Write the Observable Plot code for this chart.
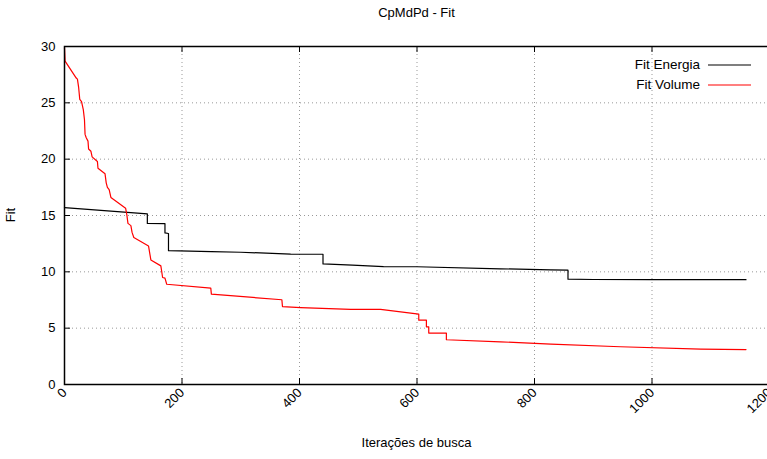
<!DOCTYPE html>
<html><head><meta charset="utf-8">
<script src="https://cdn.jsdelivr.net/npm/d3@7"></script>
<script src="https://cdn.jsdelivr.net/npm/@observablehq/plot@0.6"></script>
<style>body{margin:0;background:#fff} svg{display:block}</style>
</head><body><div id="chart"></div>
<script>
// ---- data ----
const seriesNames = ["Fit Energia", "Fit Volume"];
const seriesColors = ["#000000", "#ff0000"];

const energiaX = [0, 141, 141, 171, 171, 177, 177, 250, 300, 385, 440, 440, 490, 543, 600, 742, 828, 857, 857, 900, 1000, 1160];
const energiaY = [15.70, 15.15, 14.30, 14.28, 13.45, 13.40, 11.88, 11.80, 11.74, 11.58, 11.56, 10.70, 10.60, 10.47, 10.45, 10.27, 10.18, 10.15, 9.35, 9.32, 9.30, 9.30];

const volumeX = [0, 1, 20, 22, 24, 26, 29, 32, 34, 35, 37, 40, 41, 45, 47, 56, 57, 69, 71, 73, 76, 79, 104, 106, 108, 113, 115, 118, 143, 147, 164, 167, 171, 174, 249, 250, 370, 371, 402, 487, 538, 603, 603, 616, 616, 620, 620, 650, 650, 742, 828, 946, 1083, 1160];
const volumeY = [29.9, 28.7, 27.2, 27.1, 26.4, 25.3, 25.1, 24.4, 23.5, 22.2, 21.9, 21.6, 20.9, 20.7, 20.2, 19.8, 19.2, 18.7, 17.9, 17.5, 17.3, 16.6, 15.65, 15.1, 14.3, 14.1, 13.5, 13.05, 12.3, 11.06, 10.53, 9.5, 9.44, 8.9, 8.55, 8.02, 7.52, 6.92, 6.83, 6.66, 6.66, 6.25, 5.71, 5.71, 5.12, 5.12, 4.56, 4.56, 3.97, 3.79, 3.58, 3.35, 3.14, 3.10];

const xTicks = [0, 200, 400, 600, 800, 1000, 1200];
const yTicks = [0, 5, 10, 15, 20, 25, 30];
const titleText = "CpMdPd - Fit";
const xLabel = "Iterações de busca";
const yLabel = "Fit";

const data = [
  ...energiaX.map((x, i) => ({series: seriesNames[0], x, y: energiaY[i]})),
  ...volumeX.map((x, i) => ({series: seriesNames[1], x, y: volumeY[i]}))
];

const W = 767, H = 459;
const mT = 46, mB = 75, mL = 64, mR = -2;
const plotW = W - mL - mR, plotH = H - mT - mB;
const font = "'Liberation Sans', Arial, Helvetica, sans-serif";

const chart = Plot.plot({
  width: W, height: H,
  marginTop: mT, marginBottom: mB, marginLeft: mL, marginRight: mR,
  style: {fontFamily: font, fontSize: "13px", background: "#fff", overflow: "visible"},
  x: {domain: [0, 1200], axis: null},
  y: {domain: [0, 30], axis: null},
  color: {domain: seriesNames, range: seriesColors},
  marks: [
    Plot.ruleX(xTicks.slice(1, -1), {stroke: "#999", strokeDasharray: "1,3"}),
    Plot.ruleY(yTicks.slice(1, -1), {stroke: "#999", strokeDasharray: "1,3"}),
    Plot.ruleX(xTicks, {insetTop: plotH - 6, stroke: "#000"}),
    Plot.ruleX(xTicks, {insetBottom: plotH - 6, stroke: "#000"}),
    Plot.ruleY(yTicks, {insetRight: plotW - 6, stroke: "#000"}),
    Plot.line(data, {x: "x", y: "y", z: "series", stroke: "series", strokeWidth: 1.2}),
    Plot.frame({stroke: "#000", strokeWidth: 1.5}),
    Plot.text(yTicks, {y: d => d, frameAnchor: "left", dx: -9, textAnchor: "end", text: d => String(d), fill: "#000"}),
    Plot.text(xTicks, {x: d => d, frameAnchor: "bottom", dx: 3, dy: 9, rotate: -45, textAnchor: "end", text: d => String(d), fill: "#000"})
  ]
});

const svg = d3.select(chart);
const xs = chart.scale("x");
const right = xs.range[1];
const cx = (mL + right) / 2;

svg.append("text").attr("x", cx).attr("y", 14).attr("text-anchor", "middle")
  .attr("dominant-baseline", "middle").attr("font-family", font).attr("font-size", 13).text(titleText);
svg.append("text").attr("x", cx).attr("y", 444).attr("text-anchor", "middle")
  .attr("dominant-baseline", "middle").attr("font-family", font).attr("font-size", 13).text(xLabel);
svg.append("text").attr("transform", `translate(12,${mT + plotH / 2}) rotate(-90)`).attr("text-anchor", "middle")
  .attr("dominant-baseline", "middle").attr("font-family", font).attr("font-size", 13).text(yLabel);

// legend
seriesNames.forEach((name, i) => {
  const y = 65 + i * 20;
  svg.append("text").attr("x", right - 69).attr("y", y).attr("text-anchor", "end")
    .attr("dominant-baseline", "middle").attr("font-family", font).attr("font-size", 13.5).text(name);
  svg.append("line").attr("x1", right - 61).attr("x2", right - 18).attr("y1", y).attr("y2", y)
    .attr("stroke", seriesColors[i]).attr("stroke-width", 1.2);
});

document.getElementById("chart").appendChild(chart);
</script>
</body></html>
